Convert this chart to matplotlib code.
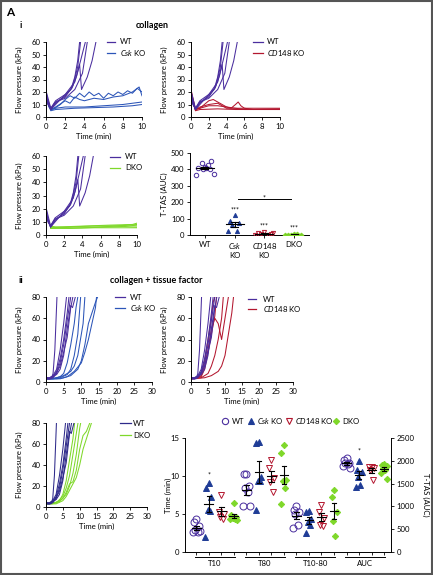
import numpy as np
import matplotlib
matplotlib.use('Agg')
import matplotlib.pyplot as plt
from matplotlib.lines import Line2D
from matplotlib.patches import Rectangle
import matplotlib.transforms as mtrans

plt.rcParams['font.family'] = ['Lato', 'DejaVu Sans']
plt.rcParams['mathtext.fontset'] = 'custom'
plt.rcParams['mathtext.rm'] = 'Lato'
plt.rcParams['mathtext.it'] = 'Lato:italic'
plt.rcParams['mathtext.bf'] = 'Lato:bold'

# ---------------- colours ----------------
C_WT = '#4a2e9e'
C_CSK = '#2c55b8'
C_CSK_M = '#1f3c96'
C_CD = '#b3172f'
C_DKO = '#7fd82a'

# ---------------- data: collagen traces (time min, kPa) ----------------
wt_col_t = [[0, 0.15, 0.5, 1, 2, 2.6, 3.0, 3.3, 3.5],
            [0, 0.2, 0.5, 1, 2, 2.8, 3.3, 3.6],
            [0, 0.5, 1, 2, 2.7, 3.2, 3.5, 3.7, 4.3, 4.8, 5.2],
            [0, 0.5, 1, 2, 3, 3.6, 4.1],
            [0, 0.5, 1, 2, 3, 3.8, 4.3]]
wt_col_p = [[22, 12, 6, 11, 17, 22, 32, 45, 60],
            [20, 10, 7, 12, 16, 25, 40, 60],
            [18, 6, 10, 18, 23, 33, 42, 22, 32, 45, 60],
            [21, 7, 13, 18, 28, 45, 60],
            [16, 6, 12, 15, 22, 35, 60]]

csk_col_t = [[0, 0.3, 0.7, 1.5, 2, 2.5, 3, 3.5, 4, 4.5, 5, 5.5, 6, 6.5, 7, 7.5, 8, 8.5, 9, 9.5, 10],
             [0, 0.5, 1, 2, 2.5, 3, 3.5, 4, 5, 6, 7, 8, 9, 9.7, 10],
             [0, 0.5, 1, 2, 4, 6, 8, 9, 10],
             [0, 0.5, 1, 3, 5, 7, 9, 10]]
csk_col_p = [[20, 8, 6, 10, 14, 17, 15, 19, 16, 20, 17, 19, 15, 19, 17, 20, 18, 21, 19, 23, 20],
             [18, 6, 8, 13, 11, 16, 14, 13, 15, 14, 16, 17, 20, 24, 17],
             [15, 6, 7, 8, 8, 9, 10, 11, 12],
             [14, 5, 6, 7, 7.5, 8, 9, 10]]

cd_col_t = [[0, 0.5, 1, 1.5, 2, 2.5, 3, 3.5, 4, 5, 6, 10],
            [0, 0.5, 1, 2, 3, 4, 4.5, 5, 5.3, 5.6, 6, 7, 10],
            [0, 0.5, 1, 3, 5, 7, 10],
            [0, 0.5, 1, 2, 3, 3.5, 4, 5, 10]]
cd_col_p = [[22, 6, 7, 10, 13, 14, 12, 10, 8, 7, 6, 6],
            [20, 6, 7, 9, 9, 8, 7, 10, 12, 9, 7, 6, 6.5],
            [18, 5, 6, 6.5, 6, 6, 6],
            [15, 6, 8, 10, 11, 9, 7, 7, 7]]

dko_col_t = [[0.5, 2, 4, 6, 8, 10],
             [0.5, 1.5, 3, 5, 7, 9, 10],
             [0.5, 2.5, 4.5, 6.5, 8.5, 10],
             [0.5, 1, 3, 5, 7, 9.5, 10],
             [0.5, 2, 5, 8, 10]]
dko_col_p = [[6, 6, 6.5, 7, 7, 8],
             [5, 5.5, 6, 6, 6.5, 7.5, 7],
             [6, 5, 5.5, 6, 6.5, 6],
             [7, 6, 6.5, 7, 7.5, 8, 9],
             [5, 5, 5.5, 5.5, 5.5]]

# ---------------- data: collagen + tissue factor traces ----------------
wt_tf_t = [[0, 0.5, 1.5, 2, 2.5, 3.1],
           [0, 1, 2, 3, 4, 5, 5.8],
           [0, 1, 2, 3, 4, 5, 6, 6.5],
           [0, 1, 2, 3, 4, 5, 6, 7],
           [0, 1, 2, 3, 4, 5, 6, 7, 7.6],
           [0, 1, 3, 4, 5, 6, 7, 7.5, 8.3]]
wt_tf_p = [[5, 3, 3, 8, 30, 80],
           [4, 4, 6, 12, 30, 55, 80],
           [3, 3, 5, 10, 22, 40, 65, 80],
           [4, 3, 4, 8, 18, 35, 58, 80],
           [3, 3, 5, 9, 15, 28, 42, 70, 80],
           [4, 4, 7, 12, 25, 50, 72, 70, 80]]

csk_tf_t = [[0, 2, 4, 5, 6, 7, 8, 8.5, 9],
            [0, 2, 4, 6, 7, 8, 9, 9.8],
            [0, 3, 5, 7, 9, 10, 11, 12, 13, 14, 14.6],
            [0, 4, 6, 8, 10, 11, 12, 13, 14, 14.3],
            [0, 3, 5, 7, 8, 9, 10, 10.5, 11]]
csk_tf_p = [[3, 3, 5, 8, 18, 35, 55, 70, 80],
            [3, 3, 4, 7, 12, 25, 45, 80],
            [3, 3, 4, 6, 12, 20, 35, 55, 65, 75, 80],
            [3, 3, 5, 10, 18, 28, 40, 55, 70, 80],
            [3, 4, 6, 10, 15, 25, 45, 55, 80]]

cd_tf_t = [[0, 2, 3, 4, 5, 6, 6.5, 7],
           [0, 2, 3, 4, 5, 6, 7, 8, 9, 10, 11],
           [0, 3, 5, 6, 7, 8, 9, 9.5],
           [0, 4, 6, 8, 9, 10, 11, 12, 12.5],
           [0, 3, 4, 5, 6, 7, 7.5]]
cd_tf_p = [[3, 4, 8, 20, 40, 60, 75, 80],
           [3, 4, 6, 15, 30, 50, 60, 55, 40, 60, 80],
           [3, 4, 8, 15, 25, 40, 60, 80],
           [3, 4, 6, 10, 15, 25, 45, 65, 80],
           [3, 5, 12, 28, 45, 62, 80]]

dko_tf_t = [[0, 2, 4, 5, 6, 7, 8, 8.5],
            [0, 3, 5, 6, 7, 8, 9, 9.5],
            [0, 3, 5, 6, 7, 8, 9, 10, 11, 12, 13],
            [0, 3, 5, 6, 7, 8, 9, 10, 11, 12, 13.5],
            [0, 4, 6, 7, 8, 9, 10, 10.3]]
dko_tf_p = [[3, 3, 6, 12, 25, 45, 65, 80],
            [3, 4, 10, 18, 30, 50, 70, 80],
            [3, 4, 8, 14, 22, 24, 35, 55, 68, 72, 80],
            [3, 3, 6, 10, 16, 22, 28, 40, 55, 65, 80],
            [3, 5, 12, 20, 32, 50, 75, 80]]

# ---------------- data: T-TAS AUC (collagen) ----------------
ttas_groups = ['WT', '$\\mathit{Csk}$\nKO', '$\\mathit{CD148}$\nKO', 'DKO']
ttas_wt = [415, 410, 450, 440, 425, 365, 370, 405, 410, 400]
ttas_csk = [122, 85, 75, 60, 26, 26]
ttas_cd148 = [20, 12, 8, 5, 3, 0, 15]
ttas_dko = [5, 3, 2, 1, 4, 0]

# ---------------- data: collagen + TF parameters ----------------
param_groups = ['T10', 'T80', 'T10-80', 'AUC']
t10_wt = [4.3, 3.9, 3.4, 2.9, 2.6, 2.6, 2.7]
t10_csk = [9.1, 8.4, 7.3, 5.5, 5.4, 2.0]
t10_cd148 = [7.5, 5.3, 5.0, 4.6, 4.3]
t10_dko = [6.4, 4.9, 4.6, 4.5, 4.4, 4.3, 4.2, 4.5]
t80_wt = [10.2, 10.2, 8.7, 8.4, 7.9, 6.0, 6.0]
t80_csk = [14.5, 14.4, 9.9, 9.4, 9.4, 5.5]
t80_cd148 = [12.1, 11.0, 9.7, 9.2, 7.9]
t80_dko = [14.1, 13.0, 9.5, 9.3, 8.4, 6.3]
t1080_wt = [6.0, 5.5, 5.2, 5.0, 3.6, 3.2]
t1080_csk = [5.4, 5.2, 4.3, 3.9, 3.6, 2.5]
t1080_cd148 = [6.2, 5.2, 4.5, 3.6, 3.4]
t1080_dko = [8.1, 7.3, 5.3, 4.1, 2.1]
auc_wt = [2055, 2020, 1960, 1950, 1920, 1880, 1840]
auc_csk = [2000, 1800, 1760, 1650, 1480, 1430]
auc_cd148 = [1870, 1860, 1850, 1800, 1570]
auc_dko = [1940, 1910, 1890, 1840, 1800, 1740, 1600]

# ---------------- figure helpers ----------------
W, H = 433, 575
fig = plt.figure(figsize=(W / 100, H / 100), dpi=100)
FS = 5.6


def ax_px(l, t, r, b):
    return fig.add_axes([l / W, 1 - b / H, (r - l) / W, (b - t) / H])


def ftext(x, y, s, **kw):
    kw.setdefault('ha', 'left')
    kw.setdefault('va', 'center')
    kw.setdefault('fontsize', FS)
    return fig.text(x / W, 1 - y / H, s, **kw)


def fline(x1, x2, y1, y2, **kw):
    fig.add_artist(Line2D([x1 / W, x2 / W], [1 - y1 / H, 1 - y2 / H],
                          transform=fig.transFigure, **kw))


def style(ax):
    for s in ['top', 'right']:
        ax.spines[s].set_visible(False)
    for s in ['left', 'bottom']:
        ax.spines[s].set_linewidth(0.7)
    ax.tick_params(labelsize=FS, length=2.5, width=0.6, pad=1.5)


def trace_panel(box, groups, xmax, xticks, ymax, yticks, legend):
    l, t, r, b = box
    ax = ax_px(l, t, r, b)
    style(ax)
    for ts, ps, c in groups:
        for tt, pp in zip(ts, ps):
            ax.plot(tt, pp, color=c, lw=0.75)
    ax.set_xlim(0, xmax)
    ax.set_ylim(0, ymax)
    ax.set_xticks(xticks)
    ax.set_yticks(yticks)
    ax.set_xlabel('Time (min)', fontsize=FS, labelpad=2.5)
    ax.set_ylabel('Flow pressure (kPa)', fontsize=FS)
    ax.yaxis.set_label_coords(-23 / (r - l), 0.5)
    (x1, x2, xt, ys, labels, colors) = legend
    for y, lab, c in zip(ys, labels, colors):
        fline(x1, x2, y, y, color=c, lw=0.9)
        ftext(xt, y, lab)
    return ax


# ---------------- panel texts ----------------
ftext(6, 12, 'A', fontsize=8.5, fontweight='bold')
ftext(20, 25, 'i', fontsize=6.5, fontweight='bold')
ftext(152, 25, 'collagen', fontsize=6.5, fontweight='bold', ha='center')
ftext(19, 280, 'ii', fontsize=6.5, fontweight='bold')
ftext(110, 280, 'collagen + tissue factor', fontsize=6.5, fontweight='bold')

CSK_LAB = '$\\mathit{Csk}$ KO'
CD_LAB = '$\\mathit{CD148}$ KO'

# ---------------- collagen trace panels ----------------
trace_panel((46, 42, 142, 117),
            [(csk_col_t, csk_col_p, C_CSK), (wt_col_t, wt_col_p, C_WT)],
            10, [0, 2, 4, 6, 8, 10], 60, [0, 10, 20, 30, 40, 50, 60],
            (107, 115, 120, [42, 53], ['WT', CSK_LAB], [C_WT, C_CSK]))
trace_panel((191, 42, 280, 117),
            [(cd_col_t, cd_col_p, C_CD), (wt_col_t, wt_col_p, C_WT)],
            10, [0, 2, 4, 6, 8, 10], 60, [0, 10, 20, 30, 40, 50, 60],
            (253, 263, 267, [42, 53], ['WT', CD_LAB], [C_WT, C_CD]))
trace_panel((46, 156, 137, 235),
            [(dko_col_t, dko_col_p, C_DKO), (wt_col_t, wt_col_p, C_WT)],
            10, [0, 2, 4, 6, 8, 10], 60, [0, 10, 20, 30, 40, 50, 60],
            (110, 120, 125, [157, 168], ['WT', 'DKO'], [C_WT, C_DKO]))

# ---------------- T-TAS AUC scatter ----------------
JIT = [0, -0.22, 0.22, -0.11, 0.11, -0.3, 0.3, -0.05, 0.05, 0.16]


def scatter_group(ax, x, vals, marker, color, filled, ms, jw, mw, cw, lw=0.8):
    vals = np.asarray(vals, float)
    xs = x + np.array([JIT[i % len(JIT)] for i in range(len(vals))]) * jw
    ax.plot(xs, vals, linestyle='none', marker=marker, ms=ms,
            mfc=color if filled else 'none', mec=color, mew=0.7, zorder=3)
    m = vals.mean()
    s = vals.std(ddof=1) / np.sqrt(len(vals))
    ax.plot([x - mw, x + mw], [m, m], color='k', lw=lw, zorder=4)
    ax.plot([x, x], [m - s, m + s], color='k', lw=lw, zorder=4)
    ax.plot([x - cw, x + cw], [m + s, m + s], color='k', lw=lw, zorder=4)
    ax.plot([x - cw, x + cw], [m - s, m - s], color='k', lw=lw, zorder=4)


ax4 = ax_px(190, 153, 309, 235)
style(ax4)
ax4.set_xlim(-0.5, 3.5)
ax4.set_ylim(0, 500)
ax4.set_yticks([0, 100, 200, 300, 400, 500])
ax4.set_xticks([0, 1, 2, 3])
ax4.set_xticklabels(ttas_groups, fontsize=FS, linespacing=1.3)
ax4.set_ylabel('T-TAS (AUC)', fontsize=FS)
ax4.yaxis.set_label_coords(-22 / 119, 0.5)
scatter_group(ax4, 0, ttas_wt, 'o', C_WT, False, 3.2, 1.0, 0.3, 0.12)
scatter_group(ax4, 1, ttas_csk, '^', C_CSK_M, True, 3.0, 0.7, 0.3, 0.12)
scatter_group(ax4, 2, ttas_cd148, 'v', C_CD, False, 3.0, 1.0, 0.3, 0.12)
scatter_group(ax4, 3, ttas_dko, 'D', C_DKO, True, 2.4, 1.0, 0.3, 0.12)
for x, y in [(1, 152), (2, 57), (3, 43)]:
    ax4.text(x, y, '***', fontsize=5, ha='center', va='center')
ax4.plot([1.11, 2.9], [220, 220], color='k', lw=0.7, clip_on=False)
ax4.text(2.0, 228, '*', fontsize=5, ha='center', va='center')

# ---------------- collagen + TF trace panels ----------------
trace_panel((46, 297, 152, 382),
            [(csk_tf_t, csk_tf_p, C_CSK), (wt_tf_t, wt_tf_p, C_WT)],
            30, [0, 5, 10, 15, 20, 25, 30], 80, [0, 20, 40, 60, 80],
            (115, 125, 130, [297, 308], ['WT', CSK_LAB], [C_WT, C_CSK]))
trace_panel((191, 297, 293, 382),
            [(cd_tf_t, cd_tf_p, C_CD), (wt_tf_t, wt_tf_p, C_WT)],
            30, [0, 5, 10, 15, 20, 25, 30], 80, [0, 20, 40, 60, 80],
            (248, 256, 263, [299, 309], ['WT', CD_LAB], [C_WT, C_CD]))
trace_panel((46, 423, 147, 507),
            [(dko_tf_t, dko_tf_p, C_DKO), (wt_tf_t, wt_tf_p, '#2e2a8a')],
            30, [0, 5, 10, 15, 20, 25, 30], 80, [0, 20, 40, 60, 80],
            (120, 131, 133, [423, 435], ['WT', 'DKO'], ['#2e2a8a', C_DKO]))

# ---------------- parameter scatter with twin axis ----------------
ax8 = ax_px(185, 438, 391, 552)
for s in ['top', 'right']:
    ax8.spines[s].set_visible(False)
for s in ['left', 'bottom']:
    ax8.spines[s].set_linewidth(0.7)
ax8.tick_params(labelsize=FS, length=2.5, width=0.6, pad=1.5)
ax8.set_xlim(-0.9, 15.55)
ax8.set_ylim(0, 15)
ax8.set_yticks([0, 5, 10, 15])
ax8.set_xticks(np.arange(16))
ax8.set_xticklabels([])
ax8.tick_params(axis='x', length=2)
ax8.set_ylabel('Time (min)', fontsize=FS, va='center')
ax8.yaxis.set_label_coords(-17 / 206, 0.5)

ax8r = ax8.twinx()
for s in ['top', 'left', 'bottom']:
    ax8r.spines[s].set_visible(False)
ax8r.spines['right'].set_linewidth(0.7)
ax8r.tick_params(labelsize=FS, length=2.5, width=0.6, pad=1.5)
ax8r.set_ylim(0, 2500)
ax8r.set_yticks([0, 500, 1000, 1500, 2000, 2500])
ax8r.set_ylabel('T-TAS (AUC)', fontsize=FS, rotation=270, va='center')
ax8r.yaxis.set_label_coords(1 + 35 / 206, 0.5)

sets = [(ax8, [t10_wt, t10_csk, t10_cd148, t10_dko]),
        (ax8, [t80_wt, t80_csk, t80_cd148, t80_dko]),
        (ax8, [t1080_wt, t1080_csk, t1080_cd148, t1080_dko]),
        (ax8r, [auc_wt, auc_csk, auc_cd148, auc_dko])]
styles = [('o', C_WT, False, 5.0), ('^', C_CSK_M, True, 4.0),
          ('v', C_CD, False, 4.2), ('D', C_DKO, True, 3.2)]
for g, (a, vals_list) in enumerate(sets):
    for k, vals in enumerate(vals_list):
        mk, c, f, ms = styles[k]
        scatter_group(a, g * 4 + k, vals, mk, c, f, ms, 0.9, 0.35, 0.18)
ax8.text(1, 10.1, '*', fontsize=5, ha='center', va='center')
ax8r.text(13, 2210, '*', fontsize=5, ha='center', va='center')

trans = mtrans.blended_transform_factory(ax8.transData, ax8.transAxes)
for g, name in enumerate(param_groups):
    x0 = g * 4 - 0.1
    x1 = g * 4 + 3.1
    ax8.plot([x0, x1], [-0.045, -0.045], color='k', lw=0.7, transform=trans, clip_on=False)
    ax8.text((x0 + x1) / 2, -0.1, name, fontsize=FS, ha='center', va='center', transform=trans)

# legend of the parameter panel
leg = [(225, 232, 'o', C_WT, False, 4.5, 'WT'),
       (251, 257, '^', C_CSK_M, True, 4.0, CSK_LAB),
       (289, 295, 'v', C_CD, False, 4.0, CD_LAB),
       (336, 342, 'D', C_DKO, True, 3.2, 'DKO')]
for xm, xt, mk, c, f, ms, lab in leg:
    fig.add_artist(Line2D([xm / W], [1 - 421 / H], transform=fig.transFigure,
                          linestyle='none', marker=mk, ms=ms,
                          mfc=c if f else 'none', mec=c, mew=0.8))
    ftext(xt, 421, lab)

# frame around the whole figure
fig.add_artist(Rectangle((0.002, 0.002), 0.996, 0.996, transform=fig.transFigure,
                         fill=False, edgecolor='#555555', lw=1.5))

fig.savefig('out.png', dpi=100)
